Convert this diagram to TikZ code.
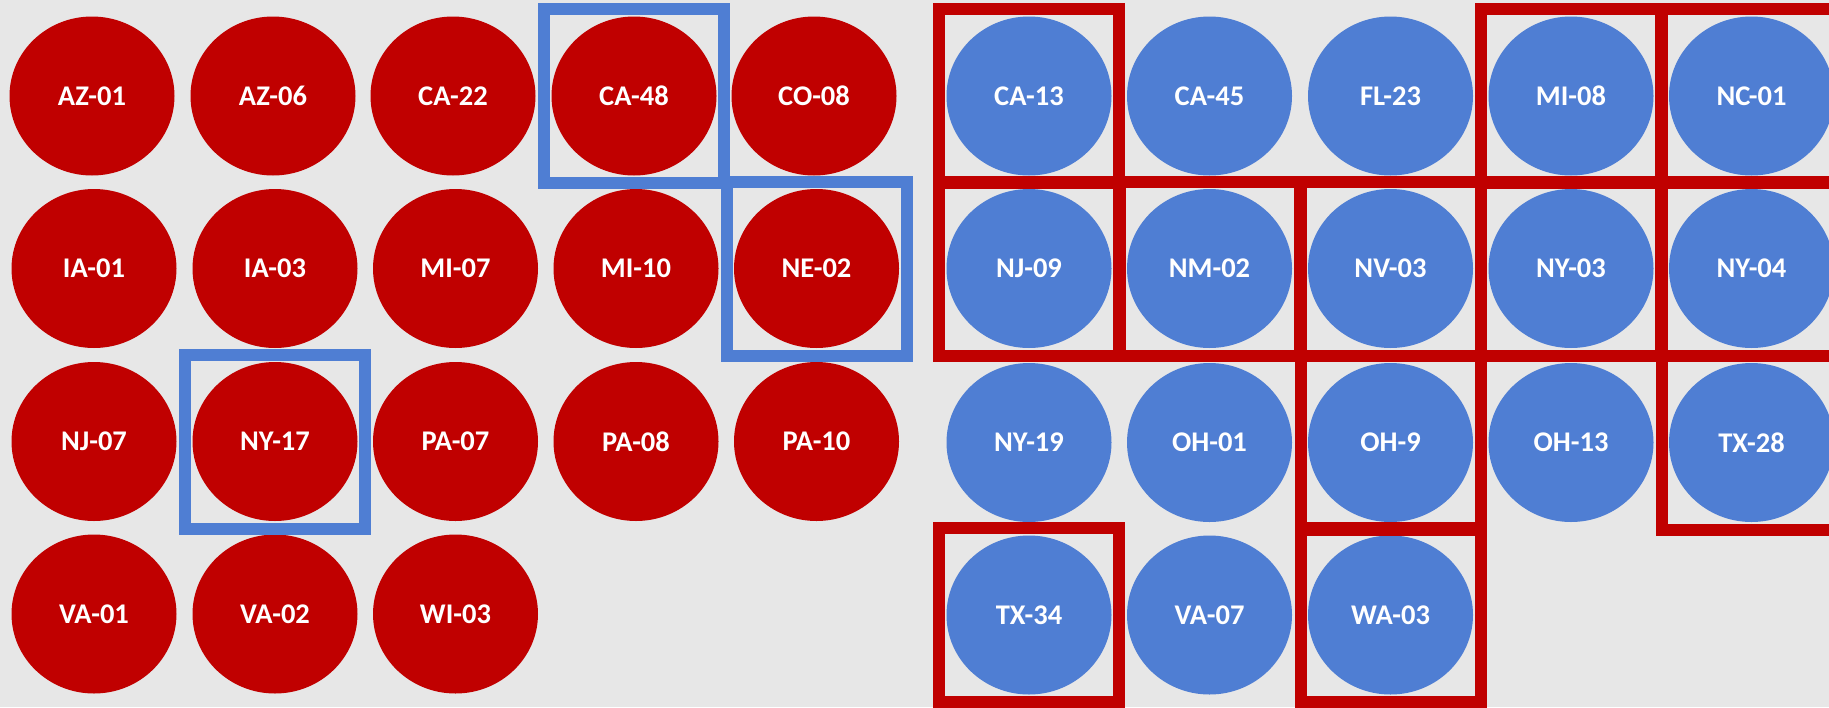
\documentclass[tikz,border=0pt]{standalone}
\usepackage{fontspec}
\setmainfont{Carlito}
\usepackage{tikz}
\usetikzlibrary{shapes.geometric}
\usepackage{xcolor}
\definecolor{repcolor}{RGB}{192, 0, 0}
\definecolor{demcolor}{RGB}{79, 126, 211}
\definecolor{bgcolor}{RGB}{231, 231, 231}
\newcommand{\seatfont}{\fontsize{28.5}{34}\selectfont\bfseries}

\begin{document}
\begin{tikzpicture}[
    x=1pt, y=-1pt,
    rep/.style={ellipse, fill=repcolor, minimum width=165pt, minimum height=159pt, inner sep=0pt, text=white, font=\seatfont},
    dem/.style={ellipse, fill=demcolor, minimum width=165pt, minimum height=159pt, inner sep=0pt, text=white, font=\seatfont},
    repframe/.style={rectangle, draw=repcolor, line width=12pt, minimum width=180pt, minimum height=174pt},
    demframe/.style={rectangle, draw=demcolor, line width=12pt, minimum width=180pt, minimum height=174pt}
]
    % Background
    \fill[bgcolor] (0,0) rectangle (1829,707);
    \useasboundingbox (0,0) rectangle (1829,707);

    % Red seats
    \node[rep] (az01) at (92, 96) {AZ-01};
    \node[rep] (az06) at (273, 96) {AZ-06};
    \node[rep] (ca22) at (453, 96) {CA-22};
    \node[rep] (ca48) at (634, 96) {CA-48};
    \node[rep] (co08) at (814, 96) {CO-08};

    \node[rep] (ia01) at (94, 268.5) {IA-01};
    \node[rep] (ia03) at (275, 268.5) {IA-03};
    \node[rep] (mi07) at (455.5, 268.5) {MI-07};
    \node[rep] (mi10) at (636, 268.5) {MI-10};
    \node[rep] (ne02) at (816.5, 268.5) {NE-02};

    \node[rep] (nj07) at (94, 441.5) {NJ-07};
    \node[rep] (ny17) at (275, 441.5) {NY-17};
    \node[rep] (pa07) at (455.5, 441.5) {PA-07};
    \node[rep] (pa08) at (636, 441.5) {PA-08};
    \node[rep] (pa10) at (816.5, 441.5) {PA-10};

    \node[rep] (va01) at (94, 614) {VA-01};
    \node[rep] (va02) at (275, 614) {VA-02};
    \node[rep] (wi03) at (455.5, 614) {WI-03};

    % Blue seats
    \node[dem] (ca13) at (1029, 96) {CA-13};
    \node[dem] (ca45) at (1209.5, 96) {CA-45};
    \node[dem] (fl23) at (1390.5, 96) {FL-23};
    \node[dem] (mi08) at (1571, 96) {MI-08};
    \node[dem] (nc01) at (1751.5, 96) {NC-01};

    \node[dem] (nj09) at (1029, 268.5) {NJ-09};
    \node[dem] (nm02) at (1209.5, 268.5) {NM-02};
    \node[dem] (nv03) at (1390.5, 268.5) {NV-03};
    \node[dem] (ny03) at (1571, 268.5) {NY-03};
    \node[dem] (ny04) at (1751.5, 268.5) {NY-04};

    \node[dem] (ny19) at (1029, 442.5) {NY-19};
    \node[dem] (oh01) at (1209.5, 442.5) {OH-01};
    \node[dem] (oh9) at (1390.5, 442.5) {OH-9};
    \node[dem] (oh13) at (1571, 442.5) {OH-13};
    \node[dem] (tx28) at (1751.5, 442.5) {TX-28};

    \node[dem] (tx34) at (1029, 615) {TX-34};
    \node[dem] (va07) at (1209.5, 615) {VA-07};
    \node[dem] (wa03) at (1390.5, 615) {WA-03};

    % Flipped to blue
    \node[demframe] (fca48) at (ca48) {};
    \node[demframe] (fne02) at (ne02) {};
    \node[demframe] (fny17) at (ny17) {};

    % Flipped to red
    \node[repframe] (fca13) at (ca13) {};
    \node[repframe] (fmi08) at (mi08) {};
    \node[repframe] (fnc01) at (nc01) {};
    \node[repframe] (fnj09) at (nj09) {};
    \node[repframe] (fnm02) at (nm02) {};
    \node[repframe] (fnv03) at (nv03) {};
    \node[repframe] (fny03) at (ny03) {};
    \node[repframe] (fny04) at (ny04) {};
    \node[repframe] (foh9) at (oh9) {};
    \node[repframe] (ftx28) at (tx28) {};
    \node[repframe] (ftx34) at (tx34) {};
    \node[repframe] (fwa03) at (wa03) {};
\end{tikzpicture}
\end{document}
